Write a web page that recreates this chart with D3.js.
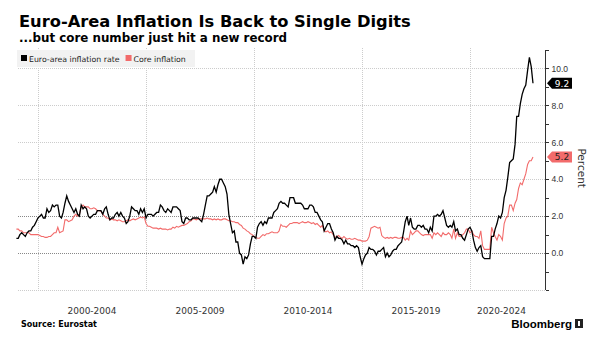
<!DOCTYPE html>
<meta charset="utf-8">
<style>
body { margin: 0; background: #fff; }
svg { font-family: "DejaVu Sans", sans-serif; }
.grid line { stroke: #ccc; stroke-dasharray: 1,1; shape-rendering: crispEdges; }
.grid line.strong { stroke: #888; }
.yaxis path, .yaxis line { stroke: #333; shape-rendering: crispEdges; }
.yaxis text { fill: #333; font-size: 8.5px; }
.xlab { fill: #333; font-size: 9px; }
</style>
<svg width="600" height="339"></svg>
<script src="https://d3js.org/d3.v7.min.js"></script>
<script>

// monthly, Jan 1999 .. Dec 2022, one row per year
var headline = [
  0.8,0.8,1.0,1.1,1.0,0.9,1.1,1.2,1.2,1.4,1.5,1.7,
  1.9,2.0,2.1,1.9,1.9,2.4,2.2,2.3,2.6,2.5,2.6,2.6,
  2.0,1.9,2.2,2.7,3.1,2.8,2.6,2.4,2.2,2.4,2.1,2.0,
  2.6,2.4,2.5,2.4,2.0,1.9,2.0,2.1,2.1,2.3,2.3,2.3,
  2.1,2.4,2.5,2.1,1.8,1.9,1.9,2.1,2.2,2.0,2.2,2.0,
  1.9,1.6,1.7,2.0,2.5,2.4,2.3,2.3,2.1,2.4,2.2,2.4,
  1.9,2.1,2.1,2.1,2.0,2.1,2.2,2.2,2.6,2.5,2.3,2.2,
  2.4,2.3,2.2,2.5,2.5,2.5,2.4,2.3,1.7,1.6,1.9,1.9,
  1.8,1.8,1.9,1.9,1.9,1.9,1.8,1.7,2.1,2.6,3.1,3.1,
  3.2,3.3,3.6,3.3,3.7,4.0,4.0,3.8,3.6,3.2,2.1,1.6,
  1.1,1.2,0.6,0.6,0.0,-0.1,-0.6,-0.2,-0.3,-0.1,0.5,0.9,
  0.9,0.8,1.4,1.6,1.7,1.5,1.7,1.6,1.9,1.9,1.9,2.2,
  2.3,2.4,2.7,2.8,2.7,2.7,2.6,2.5,3.0,3.0,3.0,2.7,
  2.7,2.7,2.7,2.6,2.4,2.4,2.4,2.6,2.6,2.5,2.2,2.2,
  2.0,1.8,1.7,1.2,1.4,1.6,1.6,1.3,1.1,0.7,0.9,0.8,
  0.8,0.7,0.5,0.7,0.5,0.5,0.4,0.4,0.3,0.4,0.3,-0.2,
  -0.6,-0.3,-0.1,0.0,0.3,0.2,0.2,0.1,-0.1,0.1,0.1,0.2,
  0.3,-0.2,0.0,-0.2,-0.1,0.1,0.2,0.2,0.4,0.5,0.6,1.1,
  1.7,2.0,1.5,1.9,1.4,1.3,1.3,1.5,1.5,1.4,1.5,1.3,
  1.3,1.1,1.4,1.2,2.0,2.0,2.1,2.0,2.1,2.3,1.9,1.5,
  1.4,1.5,1.4,1.7,1.2,1.3,1.0,1.0,0.8,0.7,1.0,1.3,
  1.4,1.2,0.7,0.3,0.1,0.3,0.4,-0.2,-0.3,-0.3,-0.3,-0.3,
  0.9,0.9,1.3,1.6,2.0,1.9,2.2,3.0,3.4,4.1,4.9,5.0,
  5.1,5.9,7.4,7.4,8.1,8.6,8.9,9.1,9.9,10.6,10.1,9.2
];

var core = [
  1.3,1.3,1.2,1.2,1.1,1.1,1.1,1.1,1.0,1.0,1.0,1.0,
  1.0,0.95,0.9,0.9,0.85,0.85,0.9,0.9,1.0,1.1,1.1,1.4,
  1.1,1.15,1.2,1.8,1.8,1.7,1.75,1.8,2.0,2.1,2.0,2.1,
  2.5,2.6,2.5,2.5,2.5,2.4,2.4,2.45,2.4,2.3,2.3,2.25,
  2.1,2.0,1.9,1.9,1.8,1.85,1.8,1.8,1.75,1.8,1.75,1.7,
  1.7,1.75,1.8,1.75,1.8,1.85,1.8,1.85,1.9,1.95,1.9,1.95,
  1.6,1.45,1.45,1.4,1.35,1.35,1.35,1.3,1.35,1.3,1.3,1.3,
  1.25,1.3,1.3,1.4,1.35,1.45,1.4,1.45,1.5,1.5,1.55,1.6,
  1.7,1.75,1.85,1.85,1.8,1.85,1.85,1.85,1.85,1.85,1.9,1.85,
  1.85,1.8,1.85,1.8,1.85,1.8,1.8,1.85,1.85,1.8,1.75,1.75,
  1.7,1.7,1.65,1.65,1.55,1.5,1.35,1.3,1.2,1.15,1.05,1.0,
  0.9,0.85,0.8,0.8,0.9,1.0,0.95,1.05,1.05,1.1,1.15,1.1,
  1.1,1.1,1.2,1.55,1.45,1.45,1.4,1.5,1.6,1.6,1.65,1.65,
  1.65,1.6,1.65,1.7,1.65,1.65,1.7,1.65,1.6,1.65,1.55,1.6,
  1.5,1.4,1.5,1.2,1.15,1.2,1.1,1.15,1.0,0.85,0.9,0.95,
  0.85,0.8,0.9,0.8,0.75,0.8,0.75,0.75,0.8,0.75,0.7,0.7,
  0.65,0.65,0.65,0.7,0.9,1.35,1.4,1.45,1.4,1.35,1.4,0.95,
  0.85,0.8,0.85,0.8,0.85,0.8,0.85,0.85,0.8,0.8,0.85,0.85,
  0.7,0.8,0.7,1.2,1.0,1.1,1.2,1.2,1.1,1.0,0.95,1.0,
  1.0,1.0,1.0,0.8,1.1,1.0,1.1,1.0,0.9,1.1,1.0,1.0,
  1.1,1.0,0.8,1.3,0.8,1.1,0.9,0.9,1.0,1.1,1.3,1.3,
  1.1,1.2,1.0,0.9,0.9,0.8,1.2,0.4,0.2,0.2,0.2,0.2,
  1.4,1.1,0.9,0.7,1.0,0.9,0.7,1.6,1.9,2.0,2.6,2.6,
  2.3,2.7,2.9,3.5,3.8,3.7,4.0,4.3,4.8,5.0,5.0,5.2
];

var periods = ["2000-2004", "2005-2009", "2010-2014", "2015-2019", "2020-2024"];
var yTicks = [0, 2, 4, 6, 8, 10];
var seriesNames = ["Euro-area inflation rate", "Core inflation"];
var colors = ["#000000", "#f26b6b"];

var svg = d3.select("svg");

var months = headline.map(function(d, i) { return new Date(1999, i, 1); });
var lastDate = months[months.length - 1];

var x = d3.scaleTime()
    .domain([new Date(1999, 0, 1), new Date(2023, 5, 22)])
    .range([16.4, 545]);

var y = d3.scaleLinear()
    .domain([-2, 11])
    .range([290, 50]);

// horizontal grid
svg.append("g").attr("class", "grid")
  .selectAll("line")
  .data([-2, 0, 2, 4, 6, 8, 10])
  .enter().append("line")
    .attr("class", function(d) { return (d === 0 || d === 2) ? "strong" : null; })
    .attr("x1", 18).attr("x2", x.range()[1])
    .attr("y1", function(d) { return Math.round(y(d)) + 0.5; })
    .attr("y2", function(d) { return Math.round(y(d)) + 0.5; });

// vertical grid at period starts
svg.append("g").attr("class", "grid")
  .selectAll("line")
  .data(periods)
  .enter().append("line")
    .attr("x1", function(p) { return Math.round(x(new Date(+p.slice(0, 4), 0, 1))) + 0.5; })
    .attr("x2", function(p) { return Math.round(x(new Date(+p.slice(0, 4), 0, 1))) + 0.5; })
    .attr("y1", 48).attr("y2", 290);

// legend
var legend = svg.append("g");
legend.append("rect")
    .attr("x", 17).attr("y", 50).attr("width", 178).attr("height", 17)
    .attr("fill", "#f2f2f2");
var lx = 21;
seriesNames.forEach(function(name, i) {
  legend.append("rect")
      .attr("x", lx).attr("y", 55).attr("width", 6).attr("height", 6)
      .attr("fill", colors[i]);
  var t = legend.append("text")
      .attr("x", lx + 8).attr("y", 61.5)
      .attr("font-size", "7.8px").attr("fill", "#222")
      .text(name);
  lx += 8 + t.node().getComputedTextLength() + 6;
});

// lines
var line = d3.line()
    .x(function(d, i) { return x(months[i]); })
    .y(function(d) { return y(d); });

svg.append("path").datum(core)
    .attr("fill", "none").attr("stroke", colors[1]).attr("stroke-width", 1.1)
    .attr("d", line);
svg.append("path").datum(headline)
    .attr("fill", "none").attr("stroke", colors[0]).attr("stroke-width", 1.3)
    .attr("d", line);

// right axis
var yAxis = d3.axisRight(y)
    .tickValues(d3.range(-2, 12))
    .tickSize(3)
    .tickPadding(3)
    .tickFormat(function(d) { return yTicks.indexOf(d) >= 0 ? d3.format(".1f")(d) : ""; });

svg.append("g").attr("class", "yaxis")
    .attr("transform", "translate(545.5,0)")
    .call(yAxis)
    .call(function(g) { g.select(".domain").attr("d", "M0," + y(11) + "V" + y(-2)); });

svg.append("text")
    .attr("transform", "translate(578," + y(4.6) + ") rotate(90)")
    .attr("text-anchor", "middle")
    .attr("font-size", "10.5px").attr("fill", "#333")
    .text("Percent");

// last value tags
[[headline, colors[0], "#fff"], [core, colors[1], "#222"]].forEach(function(s) {
  var v = s[0][s[0].length - 1];
  var yy = y(v);
  var g = svg.append("g").attr("transform", "translate(547," + yy + ")");
  g.append("path")
      .attr("d", "M0,0L5,-5.5H25V5.5H5Z")
      .attr("fill", s[1]);
  g.append("text")
      .attr("x", 15).attr("y", 3.3)
      .attr("text-anchor", "middle")
      .attr("font-size", "9px").attr("fill", s[2])
      .text(d3.format(".1f")(v));
});

// x labels, centred in each period (cut at last data point)
svg.append("g").selectAll("text")
  .data(periods)
  .enter().append("text")
    .attr("class", "xlab")
    .attr("text-anchor", "middle")
    .attr("x", function(p) {
      var a = new Date(+p.slice(0, 4), 0, 1);
      var b = new Date(+p.slice(5, 9) + 1, 0, 1);
      if (b > lastDate) b = lastDate;
      return (x(a) + x(b)) / 2;
    })
    .attr("y", 314)
    .text(function(p) { return p; });

// titles
function fit(sel, width) {
  var size = parseFloat(sel.attr("font-size"));
  sel.attr("font-size", (size * width / sel.node().getComputedTextLength()) + "px");
}

svg.append("text")
    .attr("x", 19).attr("y", 27)
    .attr("font-size", "15px").attr("font-weight", "bold").attr("fill", "#000")
    .text("Euro-Area Inflation Is Back to Single Digits")
    .call(fit, 392);

svg.append("text")
    .attr("x", 19).attr("y", 42)
    .attr("font-size", "12px").attr("font-weight", "bold").attr("fill", "#000")
    .text("...but core number just hit a new record")
    .call(fit, 268);

// footer
svg.append("text")
    .attr("x", 21).attr("y", 327)
    .attr("font-size", "8px").attr("font-weight", "bold").attr("fill", "#000")
    .text("Source: Eurostat")
    .call(fit, 76);

svg.append("text")
    .attr("x", 572).attr("y", 328)
    .attr("text-anchor", "end")
    .attr("font-family", "Liberation Sans, Arial, sans-serif")
    .attr("font-size", "11.5px").attr("font-weight", "bold").attr("fill", "#000")
    .text("Bloomberg");
var logo = svg.append("g").attr("transform", "translate(575,319)");
logo.append("rect").attr("width", 8).attr("height", 9).attr("fill", "#222");
logo.append("rect").attr("x", 3).attr("y", 2).attr("width", 2).attr("height", 5).attr("fill", "#fff");

</script>
